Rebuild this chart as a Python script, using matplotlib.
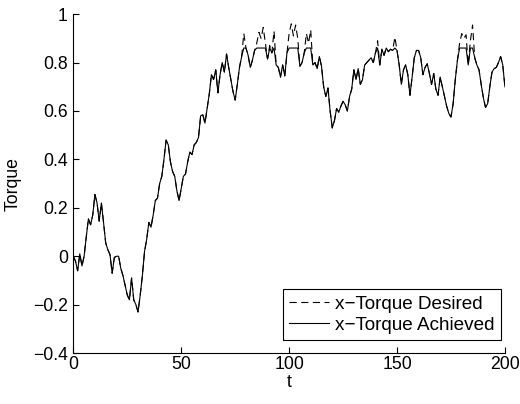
import matplotlib
matplotlib.use("Agg")
import matplotlib.pyplot as plt

plt.rcParams['font.family'] = ['Liberation Sans', 'DejaVu Sans']

t = list(range(0, 201))

torque_desired = [
    0.00, -0.02, -0.06, 0.01, -0.04, 0.00, 0.08, 0.155, 0.13, 0.17,
    0.255, 0.22, 0.145, 0.22, 0.14, 0.055, 0.027, 0.007, -0.07, -0.005,
    0.00, 0.00, -0.05, -0.08, -0.12, -0.16, -0.18, -0.09, -0.18, -0.20,
    -0.23, -0.16, -0.08, 0.02, 0.07, 0.14, 0.12, 0.17, 0.23, 0.24,
    0.30, 0.33, 0.40, 0.48, 0.46, 0.39, 0.35, 0.33, 0.27, 0.23,
    0.28, 0.33, 0.34, 0.39, 0.43, 0.42, 0.46, 0.47, 0.49, 0.58,
    0.585, 0.55, 0.61, 0.67, 0.75, 0.73, 0.77, 0.675, 0.75, 0.80,
    0.76, 0.835, 0.78, 0.73, 0.68, 0.645, 0.71, 0.78, 0.825, 0.92,
    0.86, 0.83, 0.78, 0.81, 0.85, 0.88, 0.925, 0.90, 0.945, 0.88,
    0.815, 0.87, 0.84, 0.93, 0.79, 0.78, 0.74, 0.79, 0.745, 0.84,
    0.92, 0.96, 0.91, 0.955, 0.90, 0.785, 0.80, 0.84, 0.92, 0.88,
    0.935, 0.79, 0.80, 0.775, 0.825, 0.785, 0.70, 0.66, 0.695, 0.60,
    0.53, 0.56, 0.61, 0.595, 0.62, 0.64, 0.625, 0.60, 0.66, 0.69,
    0.77, 0.73, 0.775, 0.71, 0.73, 0.79, 0.80, 0.81, 0.82, 0.80,
    0.84, 0.89, 0.79, 0.855, 0.83, 0.86, 0.845, 0.855, 0.85, 0.905,
    0.85, 0.79, 0.71, 0.77, 0.79, 0.75, 0.665, 0.74, 0.82, 0.85,
    0.85, 0.82, 0.75, 0.78, 0.795, 0.755, 0.71, 0.755, 0.69, 0.665,
    0.74, 0.70, 0.66, 0.62, 0.59, 0.575, 0.63, 0.73, 0.81, 0.88,
    0.92, 0.90, 0.915, 0.79, 0.89, 0.955, 0.82, 0.79, 0.77, 0.71,
    0.655, 0.615, 0.63, 0.70, 0.76, 0.775, 0.78, 0.80, 0.825, 0.79,
    0.70,
]

torque_achieved = [
    0.00, -0.02, -0.06, 0.01, -0.04, 0.00, 0.08, 0.155, 0.13, 0.17,
    0.255, 0.22, 0.145, 0.22, 0.14, 0.055, 0.027, 0.007, -0.07, -0.005,
    0.00, 0.00, -0.05, -0.08, -0.12, -0.16, -0.18, -0.09, -0.18, -0.20,
    -0.23, -0.16, -0.08, 0.02, 0.07, 0.14, 0.12, 0.17, 0.23, 0.24,
    0.30, 0.33, 0.40, 0.48, 0.46, 0.39, 0.35, 0.33, 0.27, 0.23,
    0.28, 0.33, 0.34, 0.39, 0.43, 0.42, 0.46, 0.47, 0.49, 0.58,
    0.585, 0.55, 0.61, 0.67, 0.75, 0.73, 0.77, 0.675, 0.75, 0.80,
    0.76, 0.835, 0.78, 0.73, 0.68, 0.645, 0.71, 0.78, 0.825, 0.86,
    0.86, 0.83, 0.78, 0.81, 0.85, 0.86, 0.86, 0.86, 0.86, 0.86,
    0.815, 0.86, 0.84, 0.86, 0.79, 0.78, 0.74, 0.79, 0.745, 0.84,
    0.86, 0.86, 0.86, 0.86, 0.86, 0.785, 0.80, 0.84, 0.86, 0.86,
    0.86, 0.79, 0.80, 0.775, 0.825, 0.785, 0.70, 0.66, 0.695, 0.60,
    0.53, 0.56, 0.61, 0.595, 0.62, 0.64, 0.625, 0.60, 0.66, 0.69,
    0.77, 0.73, 0.775, 0.71, 0.73, 0.79, 0.80, 0.81, 0.82, 0.80,
    0.84, 0.86, 0.79, 0.855, 0.83, 0.86, 0.845, 0.855, 0.85, 0.86,
    0.85, 0.79, 0.71, 0.77, 0.79, 0.75, 0.665, 0.74, 0.82, 0.85,
    0.85, 0.82, 0.75, 0.78, 0.795, 0.755, 0.71, 0.755, 0.69, 0.665,
    0.74, 0.70, 0.66, 0.62, 0.59, 0.575, 0.63, 0.73, 0.81, 0.86,
    0.86, 0.86, 0.86, 0.79, 0.86, 0.86, 0.82, 0.79, 0.77, 0.71,
    0.655, 0.615, 0.63, 0.70, 0.76, 0.775, 0.78, 0.80, 0.825, 0.79,
    0.70,
]

x_ticks = [0, 50, 100, 150, 200]
y_ticks = [-0.4, -0.2, 0, 0.2, 0.4, 0.6, 0.8, 1]
y_tick_labels = ['\u22120.4', '\u22120.2', '0', '0.2', '0.4', '0.6', '0.8', '1']

FS = 12.7

fig = plt.figure(figsize=(5.2, 4.04), dpi=100)
ax = fig.add_axes([0.141, 0.126, 0.83, 0.839])

ax.plot(t, torque_desired, color='black', linestyle=(0, (6.5, 4)), linewidth=0.8,
        label='x\u2212Torque Desired')
ax.plot(t, torque_achieved, color='black', linestyle='-', linewidth=0.8,
        label='x\u2212Torque Achieved')

ax.set_xlim(0, 200)
ax.set_ylim(-0.4, 1)
ax.set_xticks(x_ticks)
ax.set_yticks(y_ticks)
ax.set_yticklabels(y_tick_labels)

for side in ('top', 'right'):
    ax.spines[side].set_visible(False)
for side in ('left', 'bottom'):
    ax.spines[side].set_linewidth(0.8)

ax.tick_params(direction='in', length=4, width=0.8, labelsize=FS)
ax.tick_params(axis='x', pad=2)
ax.tick_params(axis='y', pad=4)
ax.set_xlabel('t', fontsize=FS, labelpad=1)
ax.set_ylabel('Torque', fontsize=FS, labelpad=8)

leg = ax.legend(loc='lower right', bbox_to_anchor=(0.9907, 0.038),
                fontsize=13.6, frameon=True, fancybox=False,
                edgecolor='black', framealpha=1, handlelength=2.1,
                borderpad=0.35, labelspacing=0.2, handletextpad=0.3,
                borderaxespad=0.0)
leg.get_frame().set_linewidth(0.8)

fig.savefig('out.png', dpi=100)
